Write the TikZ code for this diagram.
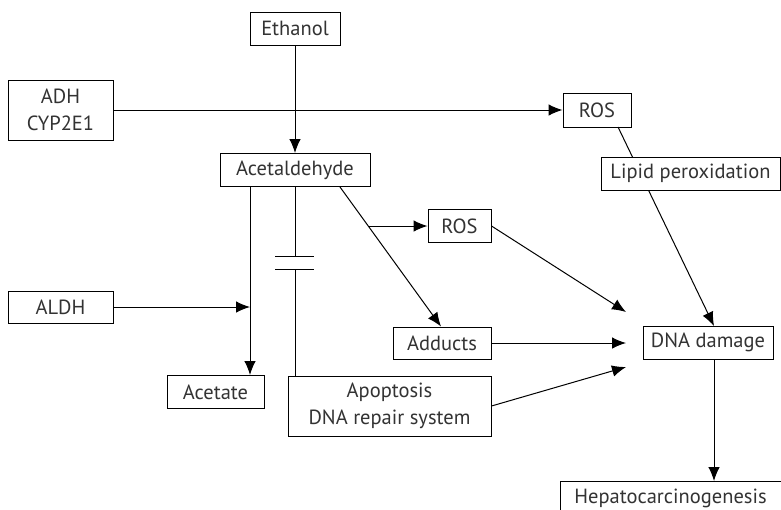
\documentclass[tikz,border=0pt]{standalone}
\usepackage{fontspec}
\setmainfont{PT Sans}
\usetikzlibrary{arrows.meta}

\tikzset{
  box/.style={draw,line width=1pt,fill=white,inner sep=0pt,align=center,
    text=black!80,font=\fontsize{20.5}{27}\selectfont},
  arr/.style={line width=1pt,-{Latex[length=14pt,width=11.5pt]}},
  ln/.style={line width=1pt}
}

\begin{document}
\begin{tikzpicture}[x=1pt,y=-1pt]
  \useasboundingbox (0,0) rectangle (781,509);

  \node[box,minimum width=90,minimum height=33] (ethanol) at (295,28.5) {Ethanol};
  \node[box,minimum width=105,minimum height=60] (adh) at (60.5,110) {ADH\\CYP2E1};
  \node[box,minimum width=150,minimum height=33] (acetald) at (295,170) {Acetaldehyde};
  \node[box,minimum width=68,minimum height=34] (rosA) at (597,110) {ROS};
  \node[box,minimum width=63,minimum height=33] (rosB) at (459.5,226) {ROS};
  \node[box,minimum width=105,minimum height=32] (aldh) at (60.5,307) {ALDH};
  \node[box,minimum width=98,minimum height=32] (adducts) at (442,343) {Adducts};
  \node[box,minimum width=97,minimum height=33] (acetate) at (215.5,392) {Acetate};
  \node[box,minimum width=203,minimum height=60] (apopt) at (389.5,406) {Apoptosis\\DNA repair system};
  \node[box,minimum width=130,minimum height=33] (dna) at (708,342.5) {DNA damage};
  \node[box,minimum width=221,minimum height=33] (hepato) at (670.5,498) {Hepatocarcinogenesis};

  % free ends
  \coordinate (rosfoot) at (618,127);
  \coordinate (dnatop) at (714,326);
  \coordinate (aldhjoin) at (250,307);
  \coordinate (rosjoin) at (369,226);
  \coordinate (inA) at (626,312);
  \coordinate (inB) at (626,343);
  \coordinate (inC) at (626,367);

  % ethanol path
  \draw[arr] (ethanol) -- (acetald);
  \draw[arr] (adh.east) -- (rosA.west);
  \draw[arr] (acetald.south -| aldhjoin) -- (acetate.north -| aldhjoin);
  \draw[arr] (aldh.east) -- (aldhjoin);
  \draw[arr] (acetald.south -| 340,0) -- (adducts.north -| 441,0);
  \draw[arr] (rosjoin) -- (rosB.west);

  % blocked link
  \draw[ln] (acetald.south) -- (295,256);
  \draw[ln] (275,256) -- (314,256) (275,269) -- (314,269);
  \draw[ln] (295,269) -- (apopt.north -| 295,0);

  % into DNA damage
  \draw[arr] (rosB.east) -- (inA);
  \draw[arr] (adducts.east) -- (inB);
  \draw[arr] (apopt.east) -- (inC);
  \draw[arr] (rosfoot) -- (dnatop);
  \node[box,minimum width=179,minimum height=33] (lipid) at (690.5,173.5) {Lipid peroxidation};
  \draw[arr] (dna.south -| dnatop) -- (hepato.north -| dnatop);
\end{tikzpicture}
\end{document}
